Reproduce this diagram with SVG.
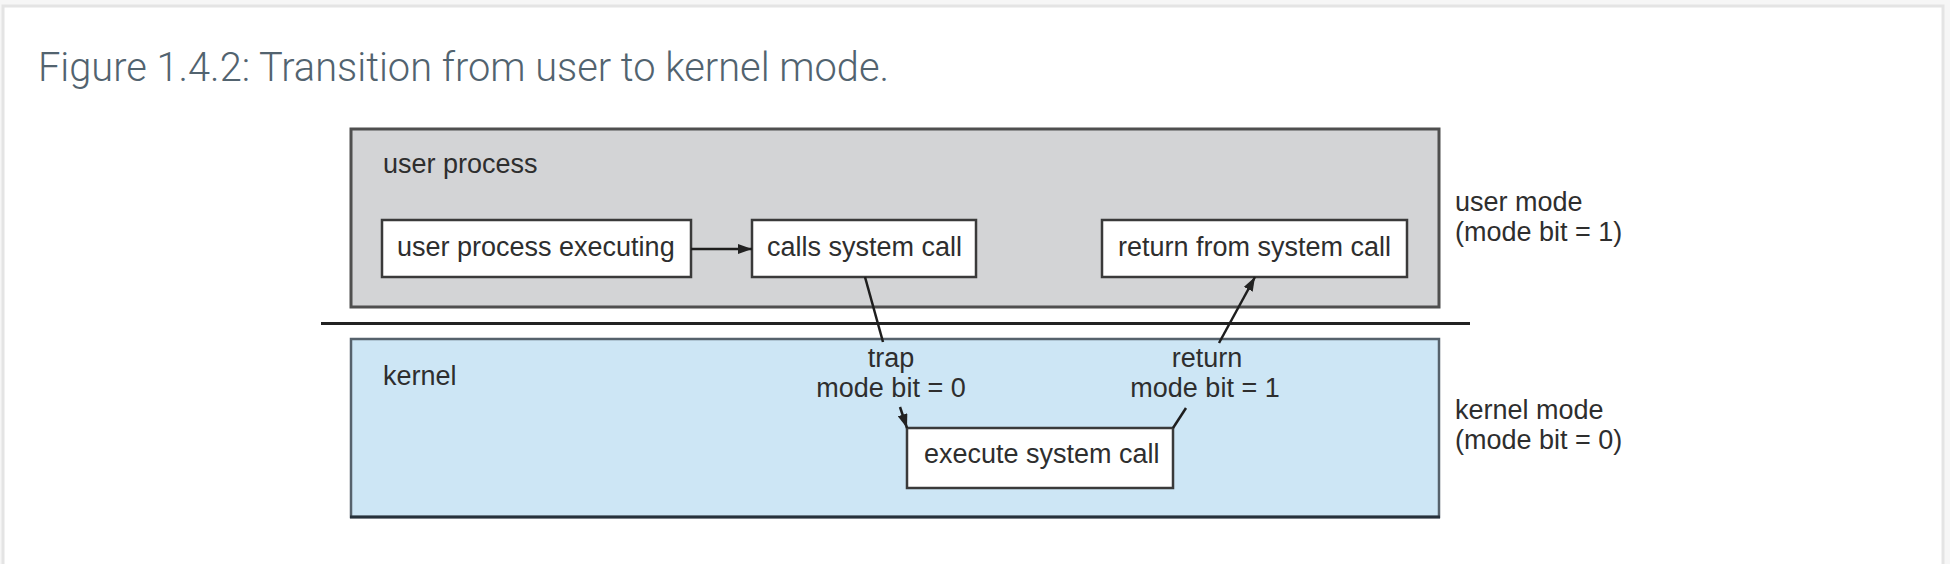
<svg xmlns="http://www.w3.org/2000/svg" width="1950" height="564" viewBox="0 0 1950 564">
  <defs>
    <marker id="ah" viewBox="0 0 14 10" refX="14" refY="5" markerWidth="14" markerHeight="10" markerUnits="userSpaceOnUse" orient="auto">
      <path d="M0,0 L14,5 L0,10 Z" fill="#222"/>
    </marker>
    <style>
      .t { font-family: "Liberation Sans", Arial, sans-serif; font-size: 27px; fill: #2e2e2e; }
      .mid { text-anchor: middle; }
      .node { fill: #ffffff; stroke: #3a3a3a; stroke-width: 2.5; }
      .conn { stroke: #1e1e1e; stroke-width: 2.5; fill: none; }
    </style>
  </defs>

  <rect x="0" y="0" width="1950" height="564" fill="#f6f6f6"/>
  <rect x="3" y="6" width="1940" height="580" fill="#ffffff" stroke="#e4e4e4" stroke-width="3"/>

  <text x="38" y="81" font-family="Roboto, 'Noto Sans', sans-serif" font-size="40" font-weight="300" fill="#52636f" textLength="851" lengthAdjust="spacingAndGlyphs">Figure 1.4.2: Transition from user to kernel mode.</text>

  <g id="user-region">
    <rect x="351" y="129" width="1088" height="178" fill="#d3d4d6" stroke="#4f4f4f" stroke-width="3"/>
    <text class="t" x="383" y="173">user process</text>
  </g>

  <g id="divider">
    <line x1="321" y1="323.5" x2="1470" y2="323.5" stroke="#222" stroke-width="3"/>
  </g>

  <g id="kernel-region">
    <rect x="351" y="339" width="1088" height="178" fill="#cde6f5" stroke="#56626c" stroke-width="2.5"/>
    <line x1="350" y1="517" x2="1440" y2="517" stroke="#26313b" stroke-width="3"/>
    <text class="t" x="383" y="385">kernel</text>
  </g>

  <g id="user-process-executing">
    <rect class="node" x="382" y="220" width="309" height="57"/>
    <text class="t" x="397" y="256">user process executing</text>
  </g>

  <g id="calls-system-call">
    <rect class="node" x="752" y="220" width="224" height="57"/>
    <text class="t" x="767" y="256">calls system call</text>
  </g>

  <g id="return-from-system-call">
    <rect class="node" x="1102" y="220" width="305" height="57"/>
    <text class="t" x="1118" y="256">return from system call</text>
  </g>

  <g id="execute-system-call">
    <rect class="node" x="907" y="428" width="266" height="60"/>
    <text class="t" x="924" y="463">execute system call</text>
  </g>

  <g id="mode-labels">
    <text class="t" x="1455" y="211">user mode</text>
    <text class="t" x="1455" y="241">(mode bit = 1)</text>
    <text class="t" x="1455" y="419">kernel mode</text>
    <text class="t" x="1455" y="449">(mode bit = 0)</text>
  </g>

  <g id="connectors">
    <line class="conn" x1="691" y1="249" x2="752" y2="249" stroke-width="3" marker-end="url(#ah)"/>
    <line class="conn" x1="865" y1="277" x2="883" y2="342"/>
    <line class="conn" x1="900" y1="407" x2="907" y2="428" marker-end="url(#ah)"/>
    <line class="conn" x1="1173" y1="428" x2="1186" y2="408"/>
    <line class="conn" x1="1219" y1="343" x2="1255" y2="277" marker-end="url(#ah)"/>
    <text class="t mid" x="891" y="367">trap</text>
    <text class="t mid" x="891" y="397">mode bit = 0</text>
    <text class="t mid" x="1207" y="367">return</text>
    <text class="t mid" x="1205" y="397">mode bit = 1</text>
  </g>
</svg>
